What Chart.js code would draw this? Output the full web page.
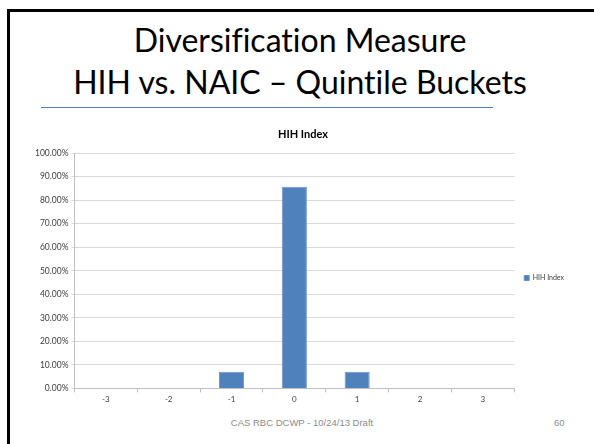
<!DOCTYPE html>
<html>
<head>
    <meta charset="UTF-8">
    <title>HIH Index</title>
    <script type="text/javascript" src="https://cdn.jsdelivr.net/npm/chart.js@4.4.1/dist/chart.umd.min.js"></script>
    <style type="text/css">
        body { margin: 0; background: #fff; width: 594px; height: 444px; overflow: hidden; position: relative; font-family: Lato, "Liberation Sans", sans-serif; }
        #frame { position: absolute; left: 7px; top: 9px; width: 700px; height: 600px; border-top: 3px solid #000; border-left: 3px solid #000; }
        .head { position: absolute; left: 0; width: 600px; text-align: center; font-size: 32px; line-height: 32px; color: #000; white-space: nowrap; font-variant-ligatures: none; font-feature-settings: "liga" 0; }
        #rule { position: absolute; left: 41px; top: 107px; width: 452px; height: 1px; background: #4f81bd; }
        #foot { position: absolute; left: 0; width: 604px; top: 417px; text-align: center; font-family: "Liberation Sans", Arial, sans-serif; font-size: 9.5px; color: #8c8c8c; }
        #pnum { position: absolute; left: 554px; top: 417px; font-family: "Liberation Sans", Arial, sans-serif; font-size: 9.5px; color: #8c8c8c; }
        #wrap { position: absolute; left: 20px; top: 120px; width: 564px; height: 286px; }
    </style>
</head>
<body>
    <div id="frame"></div>
    <div class="head" style="top:24px;">Diversification Measure</div>
    <div class="head" style="top:66px;">HIH vs. NAIC – Quintile Buckets</div>
    <div id="rule"></div>
    <div id="wrap"><canvas id="_canvas"></canvas></div>
    <div id="foot">CAS RBC DCWP - 10/24/13 Draft</div>
    <div id="pnum">60</div>
    <script type="text/javascript">
        // data
        var buckets = ["-3", "-2", "-1", "0", "1", "2", "3"];
        var hihValues = [0, 0, 7.1, 85.7, 7.1, 0, 0];
        var seriesName = "HIH Index";

        var ctx = document.getElementById("_canvas").getContext("2d");
        var HihChart = new Chart(ctx, {
            type: 'bar',
            data: {
                labels: buckets,
                datasets: [{
                    label: seriesName,
                    data: hihValues,
                    backgroundColor: "#4f81bd",
                    borderColor: "#6a95c9",
                    borderWidth: 1,
                    barPercentage: 0.4,
                    categoryPercentage: 1.0
                }]
            },
            options: {
                responsive: true,
                maintainAspectRatio: false,
                animation: false,
                layout: { padding: { left: 12, right: 10, top: 0, bottom: 0 } },
                plugins: {
                    title: {
                        display: true,
                        text: "HIH Index",
                        color: "#000",
                        font: { family: "Lato", size: 11, weight: 'bold' },
                        padding: { top: 8, bottom: 12 }
                    },
                    legend: {
                        display: true,
                        position: 'right',
                        // blank title only pushes the legend item down a little
                        title: { display: true, text: " ", font: { size: 10 }, padding: 9 },
                        labels: {
                            boxWidth: 5,
                            boxHeight: 5,
                            color: "#404040",
                            font: { family: "Lato", size: 7 },
                            padding: 10
                        }
                    },
                    tooltip: { enabled: false }
                },
                scales: {
                    x: {
                        grid: { display: true, drawOnChartArea: false, offset: true, tickLength: 4, color: "#bfbfbf" },
                        border: { color: "#bfbfbf" },
                        ticks: { color: "#404040", font: { family: "Lato", size: 8 }, padding: 2 }
                    },
                    y: {
                        min: 0,
                        max: 100,
                        grid: { color: "#d9d9d9", tickLength: 3 },
                        border: { color: "#bfbfbf" },
                        ticks: {
                            stepSize: 10,
                            color: "#404040",
                            font: { family: "Lato", size: 8.5 },
                            padding: 3,
                            callback: function (v) { return v.toFixed(2) + "%"; }
                        }
                    }
                }
            }
        });
    </script>
</body>
</html>
